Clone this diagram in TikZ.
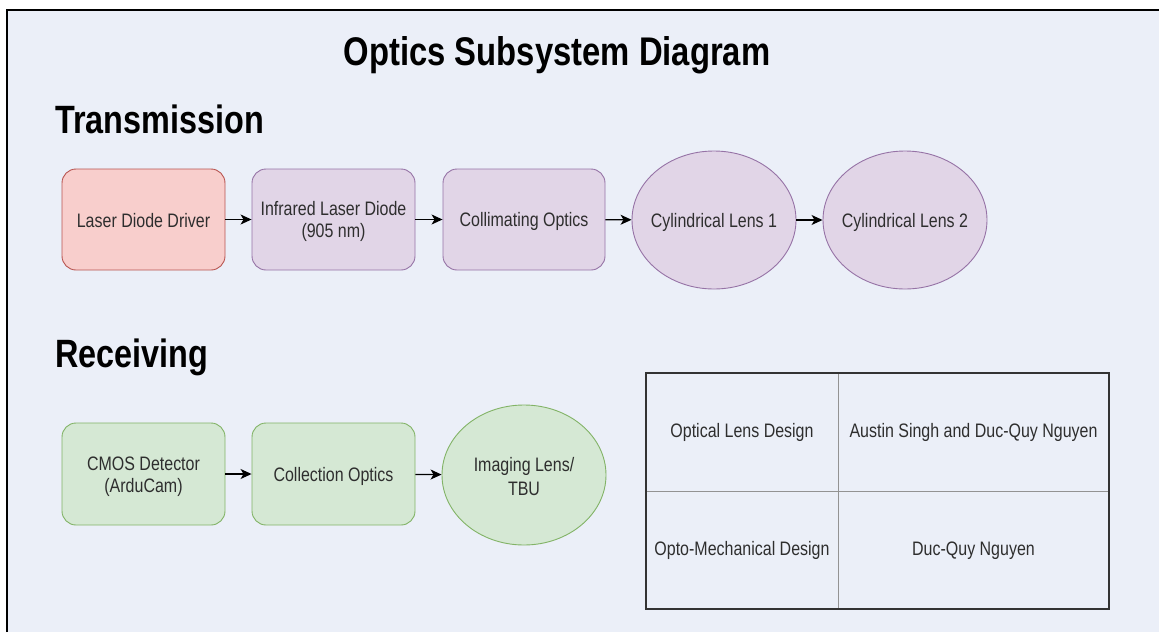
\documentclass[tikz,border=0pt]{standalone}
\usepackage{fontspec}
\setmainfont{Liberation Sans}[FakeStretch=0.82]
\usetikzlibrary{arrows.meta,shapes.geometric}
\definecolor{bgblue}{HTML}{EBEFF8}
\definecolor{redfill}{HTML}{F8CECC}
\definecolor{redline}{HTML}{B85450}
\definecolor{purfill}{HTML}{E1D5E7}
\definecolor{purline}{HTML}{9673A6}
\definecolor{grnfill}{HTML}{D5E8D4}
\definecolor{grnline}{HTML}{82B366}
\definecolor{txtgray}{HTML}{2E2E2E}
\newcommand{\ls}{\rule[-2pt]{0pt}{20.5pt}}
\tikzset{
  boxtext/.style={font=\fontsize{19.5}{22}\selectfont, text=txtgray, align=center},
  rbox/.style={boxtext, rectangle, rounded corners=14pt, minimum width=163pt, minimum height=101pt, inner sep=0pt, line width=0.9pt},
  ell/.style={boxtext, ellipse, minimum width=164pt, minimum height=138pt, inner xsep=-30pt, inner ysep=0pt, line width=0.9pt},
  redbox/.style={rbox, fill=redfill, draw=redline},
  purbox/.style={rbox, fill=purfill, draw=purline},
  purell/.style={ell, fill=purfill, draw=purline},
  grnbox/.style={rbox, fill=grnfill, draw=grnline},
  grnell/.style={ell, fill=grnfill, draw=grnline},
  arr/.style={-{Stealth[length=11pt,width=10pt,inset=3pt]}, line width=1.3pt, black},
  heading/.style={font=\fontsize{40}{44}\selectfont\bfseries, text=black, inner sep=0pt},
  celltext/.style={boxtext, inner sep=0pt},
}
\begin{document}
\begin{tikzpicture}[x=1pt,y=-1pt]
\useasboundingbox (0,0) rectangle (1159,632);
\fill[white] (0,0) rectangle (1159,632);
\fill[bgblue] (7,10) rectangle (1159,632);
\draw[line width=2.5pt,black] (7,632) -- (7,10) -- (1159,10);

\node[heading] (title) at (557,55) {Optics Subsystem Diagram};
\node[heading, anchor=west, font=\fontsize{39.5}{44}\selectfont\bfseries] (trans) at (55,119) {Transmission};
\node[heading, anchor=west, font=\fontsize{39.5}{44}\selectfont\bfseries] (recv) at (55,357) {Receiving};

\node[redbox] (ldd) at (143.5,219.5) {\ls Laser Diode Driver};
\node[purbox] (ild) at (333.5,219.5) {\ls Infrared Laser Diode\\\ls(905 nm)};
\node[purbox, minimum width=162pt] (col) at (524,219.5) {\ls Collimating Optics};
\node[purell] (cyl1) at (714,220) {\ls Cylindrical Lens 1};
\node[purell] (cyl2) at (905,220) {\ls Cylindrical Lens 2};

\draw[arr] (ldd) -- (ild);
\draw[arr] (ild) -- (col);
\draw[arr] (col) -- (cyl1);
\draw[arr] (cyl1) -- (cyl2);

\node[grnbox, minimum height=102pt] (cmos) at (143.5,474) {\ls CMOS Detector\\\ls(ArduCam)};
\node[grnbox, minimum height=102pt] (colo) at (333.5,474) {\ls Collection Optics};
\node[grnell, minimum height=140pt] (img) at (524,475) {\ls Imaging Lens/\\\ls TBU};

\draw[arr] (cmos) -- (colo);
\draw[arr] (colo) -- (img);

\draw[line width=1pt, gray!85] (838,373) -- (838,609);
\draw[line width=1pt, gray!85] (646,491) -- (1109,491);
\draw[line width=1.4pt, black!80] (646,373) rectangle (1109,609);
\node[celltext] (c11) at (742,430) {\ls Optical Lens Design};
\node[celltext] (c12) at (973.5,430) {\ls Austin Singh and Duc-Quy Nguyen};
\node[celltext] (c21) at (742,548) {\ls Opto-Mechanical Design};
\node[celltext] (c22) at (973.5,548) {\ls Duc-Quy Nguyen};
\end{tikzpicture}
\end{document}
